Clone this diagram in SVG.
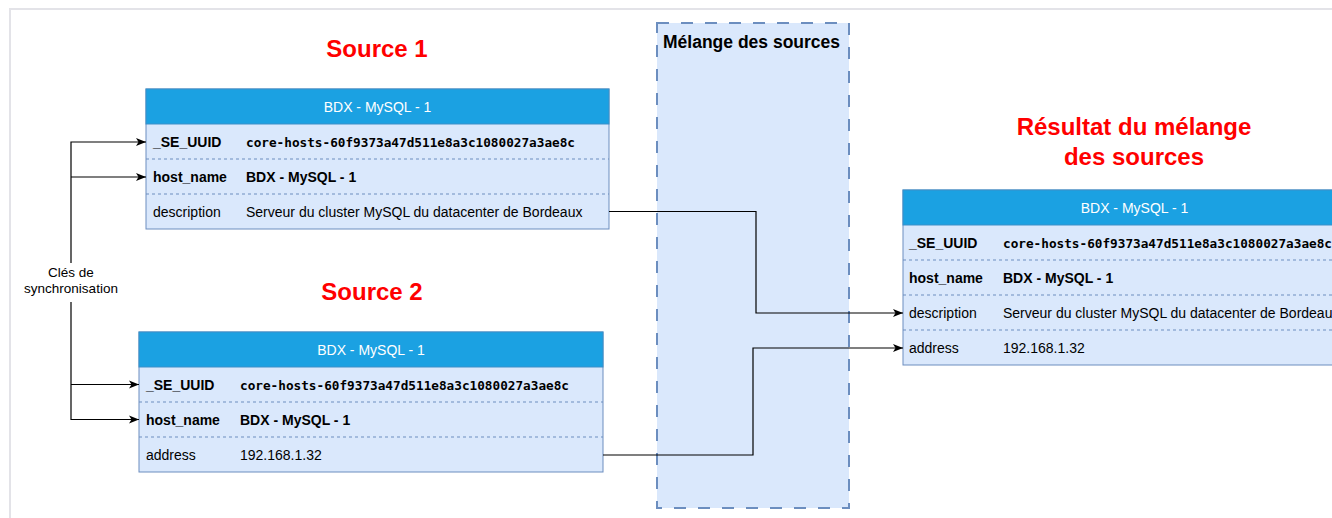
<svg xmlns="http://www.w3.org/2000/svg" width="1332" height="518" viewBox="0 0 1332 518">
<defs>
<style>
.frame{fill:#ffffff;stroke:#e3e3e8;stroke-width:2}
.title{font-family:"Liberation Sans",Arial,sans-serif;font-weight:bold;font-size:24px;fill:#ff0000;text-anchor:middle}
.hdr{fill:#1ba1e2;stroke:#3d8fc8;stroke-width:1}
.hdrtxt{font-family:"Liberation Sans",Arial,sans-serif;font-size:14px;fill:#ffffff;text-anchor:middle}
.row{fill:#dae8fc;stroke:#6c8ebf;stroke-width:1}
.sep{stroke:#6c8ebf;stroke-width:1;stroke-dasharray:3 3;fill:none}
.lbl{font-family:"Liberation Sans",Arial,sans-serif;font-size:14px;fill:#000000}
.b{font-weight:bold}
.mono{font-family:"DejaVu Sans Mono","Liberation Mono",monospace;font-size:13px;font-weight:bold;fill:#000000}
.cont{fill:#dae8fc;stroke:#6c8ebf;stroke-width:2;stroke-dasharray:12 12}
.conttxt{font-family:"Liberation Sans",Arial,sans-serif;font-weight:bold;font-size:17.5px;fill:#000000}
.edge{fill:none;stroke:#000000;stroke-width:1.2}
.key{font-family:"Liberation Sans",Arial,sans-serif;font-size:13.5px;fill:#000000;text-anchor:middle}
</style>
<marker id="arr" viewBox="0 0 10 10" refX="10" refY="5" markerWidth="10" markerHeight="10" markerUnits="userSpaceOnUse" orient="auto">
<path d="M0,1 L10,5 L0,9 L2.5,5 Z" fill="#000000"/>
</marker>
</defs>
<rect class="frame" x="10" y="9" width="1340" height="520"/>

<g id="melange">
<rect class="cont" x="657" y="23" width="192" height="485"/>
<text class="conttxt" x="663" y="48">Mélange des sources</text>
</g>

<g id="source1-title"><text class="title" x="377" y="57">Source 1</text></g>
<g id="source2-title"><text class="title" x="372" y="300">Source 2</text></g>
<g id="result-title">
<text class="title" x="1134" y="135">Résultat du mélange</text>
<text class="title" x="1134" y="165">des sources</text>
</g>

<g id="source1">
<rect class="row" x="146" y="89" width="463" height="140"/>
<rect class="hdr" x="146" y="89" width="463" height="35"/>
<text class="hdrtxt" x="377.5" y="111.5">BDX - MySQL - 1</text>
<line class="sep" x1="146" y1="159" x2="609" y2="159"/>
<line class="sep" x1="146" y1="194" x2="609" y2="194"/>
<text class="lbl b" x="153" y="146.5">_SE_UUID</text>
<text class="mono" x="246" y="146.5" textLength="329" lengthAdjust="spacingAndGlyphs">core-hosts-60f9373a47d511e8a3c1080027a3ae8c</text>
<text class="lbl b" x="153" y="181.5">host_name</text>
<text class="lbl b" x="246" y="181.5">BDX - MySQL - 1</text>
<text class="lbl" x="153" y="216.5">description</text>
<text class="lbl" x="246" y="216.5">Serveur du cluster MySQL du datacenter de Bordeaux</text>
</g>

<g id="source2">
<rect class="row" x="139" y="332" width="464" height="140"/>
<rect class="hdr" x="139" y="332" width="464" height="35"/>
<text class="hdrtxt" x="371" y="354.5">BDX - MySQL - 1</text>
<line class="sep" x1="139" y1="402" x2="603" y2="402"/>
<line class="sep" x1="139" y1="437" x2="603" y2="437"/>
<text class="lbl b" x="146" y="389.5">_SE_UUID</text>
<text class="mono" x="240" y="389.5" textLength="329" lengthAdjust="spacingAndGlyphs">core-hosts-60f9373a47d511e8a3c1080027a3ae8c</text>
<text class="lbl b" x="146" y="424.5">host_name</text>
<text class="lbl b" x="240" y="424.5">BDX - MySQL - 1</text>
<text class="lbl" x="146" y="459.5">address</text>
<text class="lbl" x="240" y="459.5">192.168.1.32</text>
</g>

<g id="result">
<rect class="row" x="903" y="190" width="463" height="175"/>
<rect class="hdr" x="903" y="190" width="463" height="35"/>
<text class="hdrtxt" x="1134.5" y="212.5">BDX - MySQL - 1</text>
<line class="sep" x1="903" y1="260" x2="1366" y2="260"/>
<line class="sep" x1="903" y1="295" x2="1366" y2="295"/>
<line class="sep" x1="903" y1="330" x2="1366" y2="330"/>
<text class="lbl b" x="909" y="247.5">_SE_UUID</text>
<text class="mono" x="1003" y="247.5" textLength="329" lengthAdjust="spacingAndGlyphs">core-hosts-60f9373a47d511e8a3c1080027a3ae8c</text>
<text class="lbl b" x="909" y="282.5">host_name</text>
<text class="lbl b" x="1003" y="282.5">BDX - MySQL - 1</text>
<text class="lbl" x="909" y="317.5">description</text>
<text class="lbl" x="1003" y="317.5">Serveur du cluster MySQL du datacenter de Bordeaux</text>
<text class="lbl" x="909" y="352.5">address</text>
<text class="lbl" x="1003" y="352.5">192.168.1.32</text>
</g>

<g id="connectors">
<path class="edge" d="M71,263 V142 H146" marker-end="url(#arr)"/>
<path class="edge" d="M71,177 H146" marker-end="url(#arr)"/>
<path class="edge" d="M71,302 V419.5 H139" marker-end="url(#arr)"/>
<path class="edge" d="M71,384.5 H139" marker-end="url(#arr)"/>
<text class="key" x="71" y="277">Clés de</text>
<text class="key" x="71" y="293">synchronisation</text>
<path class="edge" d="M609,211.5 H756 V313 H903" marker-end="url(#arr)"/>
<path class="edge" d="M603,455 H753 V348 H903" marker-end="url(#arr)"/>
</g>
</svg>
